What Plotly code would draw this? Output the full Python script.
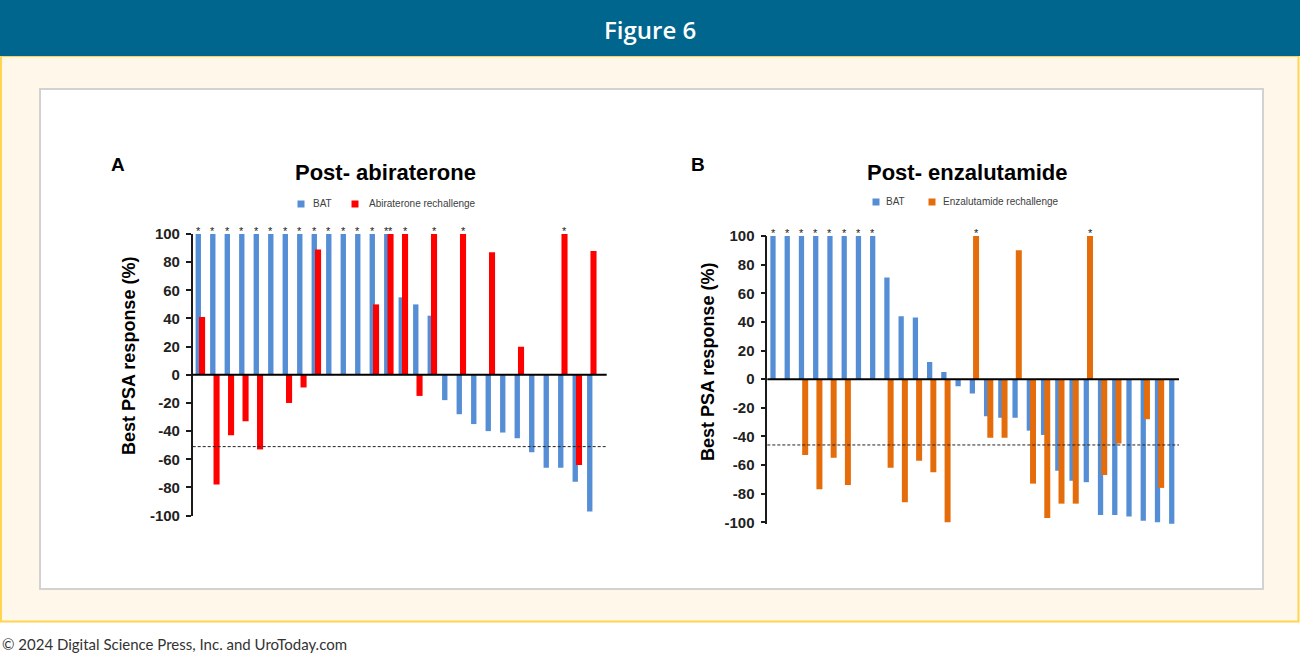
import plotly.graph_objects as go

# ---------------- data ----------------
# Panel A: Post-abiraterone (28 patients)
A_patients = list(range(1, 29))
A_bat = [100, 100, 100, 100, 100, 100, 100, 100, 100, 100, 100, 100, 100, 100,
         55, 50, 42, -18, -28, -35, -40, -41, -45, -55, -66, -66, -76, -97]
A_rechallenge = [41, -78, -43, -33, -53, None, -20, -9, 89, None, None, None, 50, 100,
                 100, -15, 100, None, 100, None, 87, None, 20, None, None, 100, -64, 88]
A_threshold = -51

# Panel B: Post-enzalutamide (29 patients)
B_patients = list(range(1, 30))
B_bat = [100, 100, 100, 100, 100, 100, 100, 100, 71, 44, 43, 12, 5, -5, -10,
         -26, -27, -27, -36, -39, -64, -71, -72, -95, -95, -96, -99, -100, -101]
B_rechallenge = [None, None, -53, -77, -55, -74, None, None, -62, -86, -57, -65, -100, None, 100,
                 -41, -41, 90, -73, -97, -87, -87, 100, -67, -45, None, -28, -76, None]
B_threshold = -46

y_ticks = [100, 80, 60, 40, 20, 0, -20, -40, -60, -80, -100]

A_title = "Post- abiraterone"
B_title = "Post- enzalutamide"
A_label = "Abiraterone rechallenge"
B_label = "Enzalutamide rechallenge"
bat_label = "BAT"
y_title = "Best PSA response (%)"

# ---------------- styles ----------------
W, H = 1300, 655
BLUE = "#558ED5"
RED = "#FF0000"
ORANGE = "#E46C0A"
HEADER = "#00668E"
CREAM = "#FFF8EA"
GOLD = "#FFD44F"

BAT_W, BAT_OFF = 0.37, -0.185
RE_W, RE_OFF = 0.42, 0.05


def fx(px):
    return px / W


def fy(py):
    return 1 - py / H


fig = go.Figure()

panels = [
    dict(pat=A_patients, bat=A_bat, re=A_rechallenge, col=RED, xa="x", ya="y", thr=A_threshold),
    dict(pat=B_patients, bat=B_bat, re=B_rechallenge, col=ORANGE, xa="x2", ya="y2", thr=B_threshold),
]

for p in panels:
    fig.add_trace(go.Bar(x=p["pat"], y=p["bat"], width=BAT_W, offset=BAT_OFF,
                         marker=dict(color=BLUE, line=dict(width=0)),
                         xaxis=p["xa"], yaxis=p["ya"], name=bat_label, showlegend=False))
    fig.add_trace(go.Bar(x=p["pat"], y=p["re"], width=RE_W, offset=RE_OFF,
                         marker=dict(color=p["col"], line=dict(width=0)),
                         xaxis=p["xa"], yaxis=p["ya"], name="rechallenge", showlegend=False))

annotations = []
shapes = []

# background decorations
shapes.append(dict(type="rect", xref="paper", yref="paper", x0=fx(1), x1=fx(1298.5), y0=fy(621.5), y1=fy(56),
                   fillcolor=CREAM, line=dict(color=GOLD, width=2), layer="below"))
shapes.append(dict(type="rect", xref="paper", yref="paper", x0=fx(40), x1=fx(1263), y0=fy(589), y1=fy(89),
                   fillcolor="white", line=dict(color="#D2D2D2", width=2), layer="below"))
shapes.append(dict(type="rect", xref="paper", yref="paper", x0=fx(0), x1=fx(1300), y0=fy(56), y1=fy(0),
                   fillcolor=HEADER, line=dict(width=0), layer="below"))

annotations.append(dict(text="Figure 6", xref="paper", yref="paper", x=fx(650), y=fy(29),
                        showarrow=False, xanchor="center", yanchor="middle",
                        font=dict(family="Open Sans", size=24, color="white", weight=600)))
annotations.append(dict(text="\u00a9 2024 Digital Science Press, Inc. and UroToday.com", xref="paper", yref="paper",
                        x=fx(0), y=fy(644), showarrow=False, xanchor="left", yanchor="middle",
                        font=dict(family="Lato", size=15, color="#333333")))

# per-panel texts
panel_txt = [
    dict(letter="A", lx=118, ly=165, title=A_title, tx=386, ty=173, yx=129, yy=356,
         leg=[(301, BLUE, 311, bat_label), (355, RED, 367, A_label)], legy=204, xa="x", ya="y"),
    dict(letter="B", lx=698, ly=165, title=B_title, tx=967, ty=173, yx=708, yy=362,
         leg=[(876, BLUE, 884, bat_label), (932, ORANGE, 941, B_label)], legy=202, xa="x2", ya="y2"),
]
for t in panel_txt:
    annotations.append(dict(text="<b>%s</b>" % t["letter"], xref="paper", yref="paper", x=fx(t["lx"]), y=fy(t["ly"]),
                            showarrow=False, xanchor="center", yanchor="middle",
                            font=dict(family="Liberation Sans", size=19, color="black")))
    annotations.append(dict(text="<b>%s</b>" % t["title"], xref="paper", yref="paper", x=fx(t["tx"]), y=fy(t["ty"]),
                            showarrow=False, xanchor="center", yanchor="middle",
                            font=dict(family="Liberation Sans", size=22, color="black")))
    annotations.append(dict(text="<b>%s</b>" % y_title, xref="paper", yref="paper", x=fx(t["yx"]), y=fy(t["yy"]),
                            showarrow=False, xanchor="center", yanchor="middle", textangle=-90,
                            font=dict(family="Liberation Sans", size=18, color="black")))
    for sqx, col, txx, lab in t["leg"]:
        shapes.append(dict(type="rect", xref="paper", yref="paper", x0=fx(sqx - 3.5), x1=fx(sqx + 3.5),
                           y0=fy(t["legy"] + 3.5), y1=fy(t["legy"] - 3.5), fillcolor=col, line=dict(width=0)))
        annotations.append(dict(text=lab, xref="paper", yref="paper", x=fx(txx), y=fy(t["legy"] - 1),
                                showarrow=False, xanchor="left", yanchor="middle",
                                font=dict(family="Liberation Sans", size=10, color="#404040")))

# threshold dashed lines, zero lines and asterisks
for p in panels:
    xd = p["xa"] + " domain"
    shapes.append(dict(type="line", xref=xd, yref=p["ya"], x0=0, x1=1, y0=p["thr"], y1=p["thr"],
                       line=dict(color="#222222", width=1, dash="3px,2px"), layer="above"))
    shapes.append(dict(type="line", xref=xd, yref=p["ya"], x0=0, x1=1, y0=0, y1=0,
                       line=dict(color="black", width=2), layer="above"))
    for vals, off, w in ((p["bat"], BAT_OFF, BAT_W), (p["re"], RE_OFF, RE_W)):
        for pat, v in zip(p["pat"], vals):
            if v is not None and v >= 100:
                annotations.append(dict(text="*", xref=p["xa"], yref=p["ya"], x=pat + off + w / 2, y=v,
                                        showarrow=False, xanchor="center", yanchor="bottom", yshift=-5,
                                        font=dict(family="Liberation Sans", size=11, color="#222222")))

axis_common_x = dict(showline=False, showgrid=False, zeroline=False, showticklabels=False, ticks="",
                     automargin=False)
axis_common_y = dict(showgrid=False, zeroline=False, showline=True, linecolor="#1a1a1a", linewidth=1.5,
                     ticks="outside", ticklen=5, tickwidth=1.5, tickcolor="#1a1a1a", tickvals=y_ticks,
                     ticktext=[str(v) for v in y_ticks], automargin=False, ticklabelstandoff=3,
                     tickfont=dict(family="Liberation Sans", size=15, color="#222222", weight="bold"))

fig.update_layout(
    template="none",
    autosize=True, margin=dict(l=0, r=0, t=0, b=0, pad=0, autoexpand=False),
    paper_bgcolor="white", plot_bgcolor="rgba(0,0,0,0)",
    barmode="overlay", showlegend=False,
    xaxis=dict(domain=[fx(192.7), fx(606.7)], range=[0.614, 29.17], anchor="y", **axis_common_x),
    yaxis=dict(domain=[fy(515.6), fy(234)], range=[-100, 100], anchor="x", **axis_common_y),
    xaxis2=dict(domain=[fx(767.3), fx(1179)], range=[0.60, 29.51], anchor="y2", **axis_common_x),
    yaxis2=dict(domain=[fy(524.4), fy(236)], range=[-101.5, 100], anchor="x2", **axis_common_y),
    shapes=shapes, annotations=annotations,
)

post = (
    "var de=document.documentElement;de.style.margin='0';de.style.padding='0';"
    "de.style.height='100%';de.style.overflow='hidden';de.style.background='white';"
    "document.body.style.margin='0';document.body.style.padding='0';"
    "document.body.style.height='100%';document.body.style.overflow='hidden';"
    "document.body.style.background='white';"
    "var gd=document.getElementById('{plot_id}');"
    "gd.parentElement.style.height='100%';gd.parentElement.style.margin='0';"
    "gd.style.position='fixed';gd.style.left='0px';gd.style.top='0px';"
    "gd.style.width='100vw';gd.style.height='100vh';"
    "Plotly.Plots.resize(gd);"
)

fig.write_html("out.html", default_width="100%", default_height="100%",
               config={"responsive": True, "displayModeBar": False}, post_script=post)
